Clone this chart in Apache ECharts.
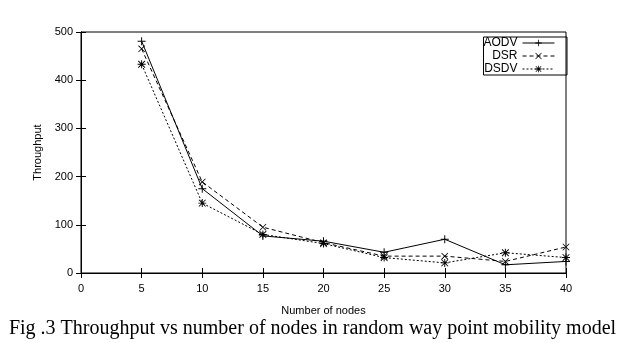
<!DOCTYPE html>
<html>
<head>
<meta charset="utf-8">
<script src="https://cdn.jsdelivr.net/npm/echarts@6/dist/echarts.min.js"></script>
<style>
html,body{margin:0;padding:0;background:#fff;}
#c{width:625px;height:343px;}
</style>
</head>
<body>
<div id="c"></div>
<script>
const nodes = [5, 10, 15, 20, 25, 30, 35, 40];
const aodv = [481, 175, 77, 66, 43, 70, 17, 24];
const dsr  = [465, 189, 95, 63, 35, 35, 24, 54];
const dsdv = [433, 145, 80, 61, 32, 21, 42, 32];
const xTicks = [0, 5, 10, 15, 20, 25, 30, 35, 40];
const yTicks = [0, 100, 200, 300, 400, 500];

const PLUS = 'path://M0,4.4H10V5.6H0Z M4.4,0H5.6V10H4.4Z';
const CROSS = 'path://M0.8,0L10,9.2L9.2,10L0,0.8Z M9.2,0L10,0.8L0.8,10L0,9.2Z';
const STAR = 'path://M0,4.4H10V5.6H0Z M4.4,0H5.6V10H4.4Z M1.2,0.4L9.6,8.8L8.8,9.6L0.4,1.2Z M8.8,0.4L9.6,1.2L1.2,9.6L0.4,8.8Z';

const font = '"Liberation Sans",Arial,sans-serif';
function mk(name, data, type, sym, size) {
  return {
    name, type: 'line',
    data: nodes.map((n, i) => [n, data[i]]),
    symbol: sym, symbolSize: size,
    lineStyle: {color: '#000', width: 1, type: type},
    itemStyle: {color: '#000'},
    emphasis: {disabled: true},
    animation: false
  };
}
const chart = echarts.init(document.getElementById('c'));
const axisCommon = {
  axisLine: {show: true, lineStyle: {color: '#000', width: 1}},
  axisTick: {show: true, inside: true, length: 5, lineStyle: {color: '#000'}},
  splitLine: {show: false}
};
chart.setOption({
  animation: false,
  backgroundColor: '#fff',
  grid: {left: 81, right: 59, top: 32, bottom: 70, show: true, borderColor: '#000', borderWidth: 1},
  legend: {
    orient: 'vertical', right: 58, top: 37,
    align: 'right',
    itemWidth: 32, itemHeight: 8, itemGap: 1,
    padding: [0, 12, 0, 0],
    borderColor: '#000', borderWidth: 1,
    lineStyle: {width: 1},
    textStyle: {fontFamily: font, fontSize: 12, lineHeight: 12, color: '#000', width: 31, align: 'right'},
    data: ['AODV', 'DSR', 'DSDV']
  },
  xAxis: [Object.assign({
    type: 'value', min: 0, max: 40, interval: 5,
    name: 'Number of nodes', nameLocation: 'middle', nameGap: 32,
    nameTextStyle: {fontFamily: font, fontSize: 11, color: '#000'},
    axisLabel: {fontFamily: font, fontSize: 11, color: '#000', margin: 10,
      customValues: xTicks}
  }, axisCommon),
  Object.assign({}, axisCommon, {
    type: 'value', position: 'top', min: 0, max: 40, interval: 5,
    axisLabel: {show: false}
  })],
  yAxis: [Object.assign({
    type: 'value', min: 0, max: 500, interval: 100,
    name: 'Throughput', nameLocation: 'middle', nameGap: 37,
    nameTextStyle: {fontFamily: font, fontSize: 11, color: '#000'},
    axisLabel: {fontFamily: font, fontSize: 11, color: '#000', margin: 8,
      customValues: yTicks}
  }, axisCommon),
  Object.assign({}, axisCommon, {
    type: 'value', position: 'right', min: 0, max: 500, interval: 100,
    axisLabel: {show: false}
  })],
  graphic: [{
    type: 'text', left: 'center', top: 319,
    style: {text: 'Fig .3 Throughput vs number of nodes in random way point mobility model',
      font: '20px "Liberation Serif","Times New Roman",serif', fill: '#000'}
  }],
  series: [
    mk('AODV', aodv, 'solid', PLUS, 8),
    mk('DSR', dsr, [4, 3], CROSS, 7),
    mk('DSDV', dsdv, [2, 2], STAR, 8)
  ]
});
</script>
</body>
</html>
